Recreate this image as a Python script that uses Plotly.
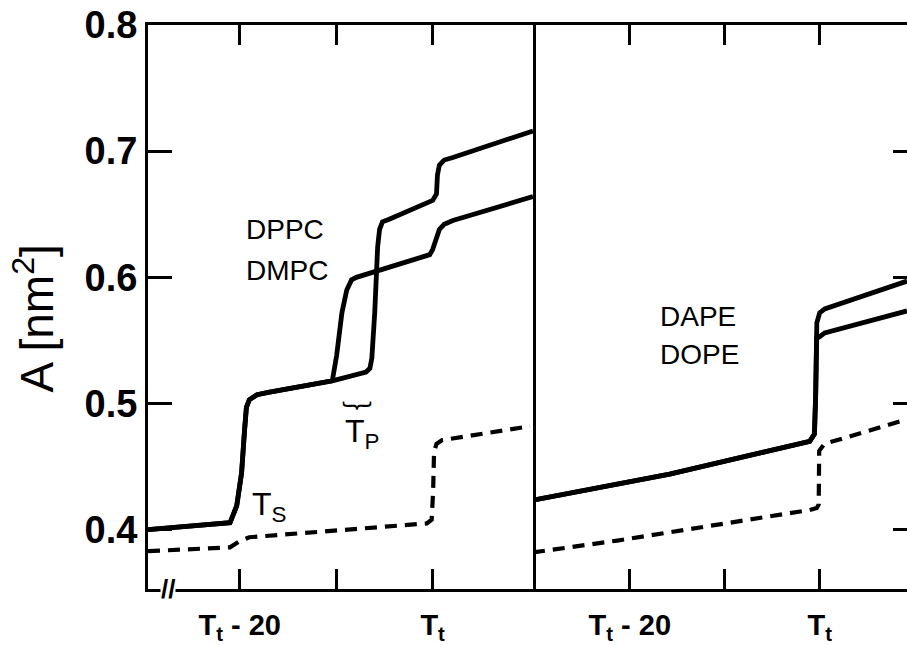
import plotly.graph_objects as go

# ---------------- data (temperature relative to T_t, area per molecule in nm^2) ----------------
dppc_x = [-29.5, -24.1, -21.0, -20.3, -19.8, -19.5, -19.3, -19.0, -18.2, -16.9, -10.4, -6.9, -6.5, -6.3,
          -6.0, -5.7, -5.5, -5.2, -4.5, 0.0, 0.4, 0.5, 0.7, 1.2, 2.1, 10.4]
dppc_y = [0.400, 0.403, 0.4055, 0.419, 0.445, 0.478, 0.497, 0.503, 0.507, 0.509, 0.518, 0.525, 0.528,
          0.536, 0.572, 0.624, 0.638, 0.644, 0.646, 0.661, 0.666, 0.681, 0.689, 0.693, 0.695, 0.716]

dmpc_x = [-29.5, -24.1, -21.0, -20.3, -19.8, -19.5, -19.3, -19.0, -18.2, -16.9, -10.4, -9.95, -9.4,
          -8.9, -8.4, -7.9, -0.3, 0.0, 0.4, 0.7, 1.2, 2.1, 10.4]
dmpc_y = [0.400, 0.403, 0.4055, 0.419, 0.445, 0.478, 0.497, 0.503, 0.507, 0.509, 0.518, 0.538, 0.572,
          0.590, 0.598, 0.600, 0.618, 0.622, 0.632, 0.638, 0.642, 0.645, 0.664]

left_dash_x = [-29.5, -21.0, -20.0, -19.0, -0.6, -0.1, 0.05, 0.15, 0.4, 1.0, 10.1]
left_dash_y = [0.383, 0.386, 0.391, 0.394, 0.405, 0.408, 0.430, 0.462, 0.468, 0.471, 0.482]

dape_x = [-30.2, -15.8, -1.05, -0.55, -0.42, -0.32, -0.30, 0.0, 0.53, 9.2]
dape_y = [0.4234, 0.444, 0.470, 0.4758, 0.507, 0.5516, 0.564, 0.5719, 0.575, 0.597]

dope_x = [-30.2, -15.8, -1.05, -0.55, -0.42, -0.32, 0.0, 0.53, 9.2]
dope_y = [0.4234, 0.444, 0.470, 0.4758, 0.507, 0.5516, 0.553, 0.556, 0.5734]

right_dash_x = [-30.2, -21.3, -1.05, -0.3, -0.1, -0.05, 0.5, 9.2]
right_dash_y = [0.382, 0.3914, 0.4156, 0.4172, 0.420, 0.4625, 0.468, 0.4875]

x_tickvals = [-20, -10, 0]
x_ticktext = ["T<sub>t</sub> - 20", "", "T<sub>t</sub>"]
y_tickvals = [0.4, 0.5, 0.6, 0.7, 0.8]
y_ticktext = ["0.4", "0.5", "0.6", "0.7", "0.8"]

FONT = "Liberation Sans"
LW = 4.8

fig = go.Figure()
solid = dict(color="black", width=LW)
dashed = dict(color="black", width=LW - 0.6, dash="12px,8px")

fig.add_trace(go.Scatter(x=dppc_x, y=dppc_y, mode="lines", line=solid, xaxis="x", yaxis="y"))
fig.add_trace(go.Scatter(x=dmpc_x, y=dmpc_y, mode="lines", line=solid, xaxis="x", yaxis="y"))
fig.add_trace(go.Scatter(x=left_dash_x, y=left_dash_y, mode="lines", line=dashed, xaxis="x", yaxis="y"))
fig.add_trace(go.Scatter(x=dape_x, y=dape_y, mode="lines", line=solid, xaxis="x2", yaxis="y2"))
fig.add_trace(go.Scatter(x=dope_x, y=dope_y, mode="lines", line=solid, xaxis="x2", yaxis="y2"))
fig.add_trace(go.Scatter(x=right_dash_x, y=right_dash_y, mode="lines", line=dashed, xaxis="x2", yaxis="y2"))

yr = [0.353, 0.8]
split = 0.5072

xcommon = dict(tickvals=x_tickvals, ticktext=x_ticktext, ticks="inside", ticklen=20, tickwidth=2.5,
               tickcolor="black", showline=True, linewidth=3, linecolor="black", mirror="ticks",
               showgrid=False, zeroline=False,
               tickfont=dict(family=FONT, size=29, color="black", weight="bold"),
               ticklabelstandoff=8)

fig.update_layout(
    width=907, height=645,
    margin=dict(l=148, r=0, t=25, b=47),
    paper_bgcolor="white", plot_bgcolor="white",
    showlegend=False,
    xaxis=dict(domain=[0, split], range=[-29.5, 10.4], anchor="y", **xcommon),
    xaxis2=dict(domain=[split, 1], range=[-30.2, 9.2], anchor="y2", **xcommon),
    yaxis=dict(domain=[0, 1], range=yr, anchor="x", tickvals=y_tickvals, ticktext=y_ticktext,
               ticks="inside", ticklen=24, tickwidth=2.5, tickcolor="black", showline=True,
               linewidth=3, linecolor="black", mirror=True, showgrid=False, zeroline=False,
               tickfont=dict(family=FONT, size=38, color="black", weight="bold"), ticklabelstandoff=0),
    yaxis2=dict(domain=[0, 1], range=yr, anchor="x2", showticklabels=False, ticks="",
                showline=False, showgrid=False, zeroline=False),
    yaxis3=dict(range=yr, overlaying="y2", anchor="x2", side="right", tickvals=y_tickvals,
                showticklabels=False, ticks="inside", ticklen=14, tickwidth=2.5, tickcolor="black",
                showline=False, showgrid=False, zeroline=False),
)
# dummy invisible trace so yaxis3 is rendered
fig.add_trace(go.Scatter(x=[None], y=[None], xaxis="x2", yaxis="y3", showlegend=False))

lab = dict(family=FONT, size=28, color="black")
big = dict(family=FONT, size=32, color="black")
annos = [
    dict(x=-19.6, y=0.638, xref="x", yref="y", text="DPPC", xanchor="left"),
    dict(x=-19.6, y=0.6055, xref="x", yref="y", text="DMPC", xanchor="left"),
    dict(x=-17.0, y=0.5688, xref="x2", yref="y2", text="DAPE", xanchor="left"),
    dict(x=-17.0, y=0.539, xref="x2", yref="y2", text="DOPE", xanchor="left"),
    dict(x=-18.9, y=0.418, xref="x", yref="y", text="T<sub>S</sub>", xanchor="left", font=big),
    dict(x=-9.3, y=0.476, xref="x", yref="y", text="T<sub>P</sub>", xanchor="left", font=big),
    dict(x=-7.85, y=0.492, xref="x", yref="y", text="︸", xanchor="center",
         font=dict(family="Noto Sans CJK SC", size=30, color="black")),
]
for a in annos:
    a.setdefault("font", lab)
    a["showarrow"] = False
    fig.add_annotation(**a)

# y-axis title
fig.add_annotation(x=-0.150, y=0.48, xref="paper", yref="paper", text="A [nm<sup>2</sup>]",
                   textangle=-90, showarrow=False, xanchor="center", yanchor="middle",
                   font=dict(family=FONT, size=46, color="black"))
# axis break mark
fig.add_annotation(x=0.027, y=0.0, xref="paper", yref="paper", text="<b>//</b>", showarrow=False,
                   xanchor="center", yanchor="middle", bgcolor="white", borderpad=0,
                   font=dict(family=FONT, size=26, color="black"))

fig.write_html("out.html")
